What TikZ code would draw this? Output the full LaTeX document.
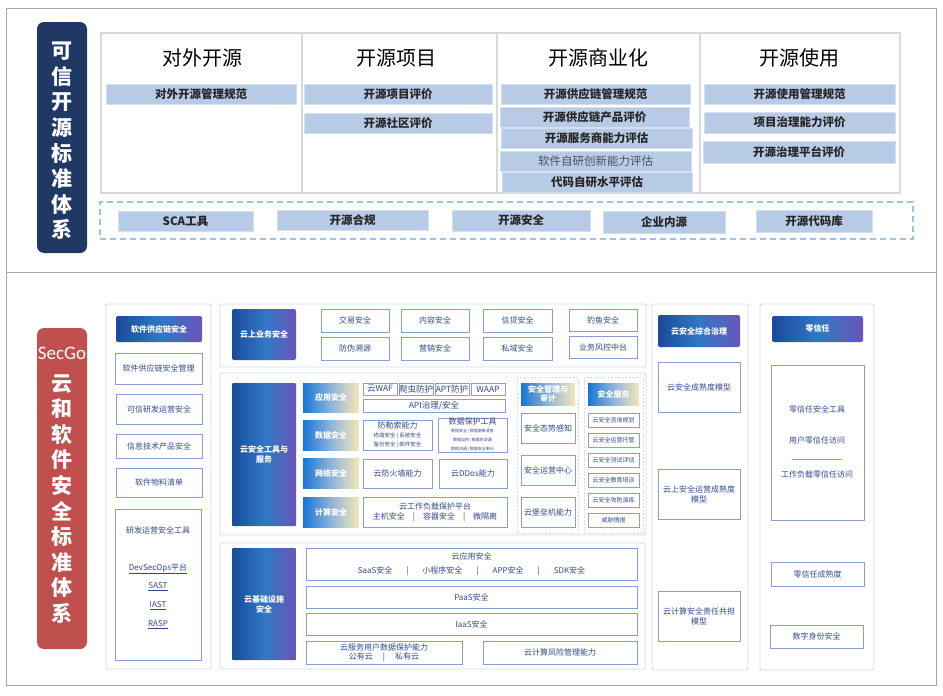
\documentclass[tikz,border=0pt]{standalone}
\usepackage{fontspec}
\setmainfont{Noto Sans CJK SC}
\newfontfamily\secgofont{Carlito}
\definecolor{navy}{HTML}{1F3864}
\definecolor{redlab}{HTML}{C0504D}
\definecolor{barblue}{HTML}{B8CBE6}
\definecolor{gridgray}{HTML}{D9D9D9}
\definecolor{framegray}{HTML}{A6A6A6}
\definecolor{dashblue}{HTML}{9DC3E6}
\definecolor{slate}{HTML}{44546A}
\definecolor{panelb}{HTML}{D3DBEE}
\definecolor{boxb}{HTML}{8A9FD0}
\definecolor{txtb}{HTML}{34488E}
\definecolor{gL}{HTML}{1A4A9A}
\definecolor{gM}{HTML}{2F78C4}
\definecolor{gR}{HTML}{6A56B8}
\definecolor{sL}{HTML}{1876D4}
\definecolor{sM}{HTML}{8FB4DA}
\definecolor{sR}{HTML}{F5E8B8}
\newcommand\fs[2]{\fontsize{#1}{#2}\selectfont}
\newcommand\B[7][]{\node[inner sep=0pt,outer sep=0pt,anchor=center,
   minimum width={(#5-#3)*1pt},minimum height={(#6-#4)*1pt},#1]
   (#2) at ({(#3+#5)/2},{(#4+#6)/2}) {#7};}
\tikzset{
  cell/.style={draw=gridgray,line width=1.5pt},
  ttl/.style={font=\fs{20}{24},text=black},
  bar/.style={fill=barblue,draw=barblue!60!white,line width=0.6pt,font=\bfseries\fs{11.5}{13},text=black!85},
  dbox/.style={draw=dashblue,dashed,dash pattern=on 6pt off 4pt,line width=1.2pt},
  vlab/.style={rounded corners=7pt,draw=none},
  vtext/.style={text=white,font=\bfseries\fs{21}{25.6},align=center},
  panel/.style={draw=panelb,line width=0.9pt,rounded corners=2pt,fill=white},
  dpanel/.style={draw=panelb,dashed,dash pattern=on 2pt off 1.5pt,line width=0.6pt},
  bx/.style={draw=boxb,line width=0.8pt,fill=white,text=txtb,font=\fs{8}{10},align=center},
  grad/.style={left color=gL,right color=gR,middle color=gM,text=white,font=\bfseries\fs{8}{10},align=center,rounded corners=2pt},
  sgrad/.style={left color=sL,right color=sR,middle color=sM,text=white,font=\bfseries\fs{8}{9.5},align=center},
  tx/.style={text=txtb,font=\fs{8}{10},align=center,inner sep=0pt},
}
\begin{document}
\begin{tikzpicture}[x=1pt,y=-1pt]
\useasboundingbox (0,0) rectangle (943,696);
\fill[white] (0,0) rectangle (943,696);
% outer frames
\draw[framegray,line width=0.9pt] (6,8) rectangle (936,685);
\draw[framegray,line width=0.9pt] (6,272) -- (936,272);

% ===== top section =====
\B[vlab,fill=navy]{lab1}{37}{22}{87}{253}{}
\node[vtext] (lab1t) at (62,141) {可\\信\\开\\源\\标\\准\\体\\系};

\B[cell]{c1}{101}{33}{302}{193}{}
\B[cell]{c2}{302}{33}{497}{193}{}
\B[cell]{c3}{497}{33}{700}{193}{}
\B[cell]{c4}{700}{33}{900}{193}{}
\node[ttl] (t1) at (202,58) {对外开源};
\node[ttl] (t2) at (396,58) {开源项目};
\node[ttl] (t3) at (598,58) {开源商业化};
\node[ttl] (t4) at (799,58) {开源使用};

\B[bar]{b11}{106}{84}{296}{104}{对外开源管理规范}
\B[bar]{b21}{304}{84}{492}{104}{开源项目评价}
\B[bar]{b22}{304}{113}{492}{133}{开源社区评价}
\B[bar]{b31}{501}{84}{690}{104}{开源供应链管理规范}
\B[bar]{b32}{500}{107}{689}{127}{开源供应链产品评价}
\B[bar]{b33}{501}{128}{692}{148}{开源服务商能力评估}
\B[bar,text=slate]{b34}{500}{151}{691}{171}{\mdseries 软件自研创新能力评估}
\B[bar]{b35}{502}{172}{692}{192}{代码自研水平评估}
\B[bar]{b41}{704}{84}{895}{104}{开源使用管理规范}
\B[bar]{b42}{704}{112}{895}{133}{项目治理能力评价}
\B[bar]{b43}{703}{141}{895}{163}{开源治理平台评价}

\B[dbox]{dz}{100}{202}{913}{239}{}
\B[bar]{d1}{118}{211}{253}{231}{SCA工具}
\B[bar]{d2}{277}{210}{428}{230}{开源合规}
\B[bar]{d3}{452}{210}{590}{231}{开源安全}
\B[bar]{d4}{603}{211}{725}{233}{企业内源}
\B[bar]{d5}{756}{210}{872}{232}{开源代码库}

% ===== bottom section =====
\B[vlab,fill=redlab]{lab2}{37}{328}{87}{649}{}
\node[text=white,font=\secgofont\fs{19}{22}] (secgo) at (62,353) {SecGo};
\node[vtext] (lab2t) at (62,499) {云\\和\\软\\件\\安\\全\\标\\准\\体\\系};

% column A
\B[panel]{pA}{106}{304}{211}{669}{}
\B[grad]{gA}{116}{316}{202}{342}{软件供应链安全}
\B[bx]{a1}{115}{353}{202}{384}{软件供应链安全管理}
\B[bx]{a2}{116}{394}{202}{424}{可信研发运营安全}
\B[bx]{a3}{116}{434}{202}{458}{信息技术产品安全}
\B[bx]{a4}{116}{468}{202}{497}{软件物料清单}
\B[bx]{a5}{115}{509}{201}{660}{}
\node[tx] (a5t) at (158,530) {研发运营安全工具};
\node[tx] (a5a) at (158,569) {\underline{DevSecOps平台}};
\node[tx] (a5b) at (158,587) {\underline{SAST}};
\node[tx] (a5c) at (158,606) {\underline{IAST}};
\node[tx] (a5d) at (158,625) {\underline{RASP}};

% column B1
\B[panel]{pB1}{220}{304}{646}{367}{}
\B[grad]{gB1}{232}{309}{296}{360}{云上业务安全}
\B[bx]{e1}{321}{309}{389}{332}{交易安全}
\B[bx]{e2}{401}{309}{469}{332}{内容安全}
\B[bx]{e3}{483}{309}{552}{332}{信贷安全}
\B[bx]{e4}{569}{309}{637}{331}{钓鱼安全}
\B[bx]{e5}{321}{337}{389}{360}{防伪溯源}
\B[bx]{e6}{401}{337}{469}{360}{营销安全}
\B[bx]{e7}{483}{337}{552}{360}{私域安全}
\B[bx]{e8}{569}{336}{637}{358}{业务风控中台}

% column B2
\B[panel]{pB2}{220}{373}{646}{535}{}
\B[grad,rounded corners=1pt]{gB2}{232}{383}{296}{526}{云安全工具与\\服务}
\B[sgrad]{s1}{303}{383}{359}{412}{应用安全}
\B[sgrad]{s2}{303}{420}{359}{450}{数据安全}
\B[sgrad]{s3}{303}{458}{359}{488}{网络安全}
\B[sgrad]{s4}{303}{497}{359}{527}{计算安全}
\B[bx,font=\fs{8.5}{10}]{f1}{363}{383}{397}{395}{云WAF}
\B[bx,font=\fs{8.5}{10}]{f2}{399}{383}{433}{395}{爬虫防护}
\B[bx,font=\fs{8.5}{10}]{f3}{435}{383}{469}{395}{APT防护}
\B[bx,font=\fs{8.5}{10}]{f4}{471}{383}{505}{395}{WAAP}
\B[bx,font=\fs{8.5}{10}]{f5}{363}{399}{505}{412}{API治理/安全}
\B[bx]{f6}{363}{420}{432}{450}{防勒索能力\\[-1.5pt]{\fs{5.5}{7}终端安全 | 系统安全}\\[-1pt]{\fs{5.5}{7}备份安全 | 邮件安全}}
\B[bx]{f7}{438}{420}{507}{450}{数据保护工具\\[-2pt]{\fs{4}{5}数据安全 | 数据脱敏清查}\\[-1pt]{\fs{4}{5}数据加密 | 数据防泄漏}\\[-1pt]{\fs{4}{5}数据流通 | 数据安全审计}}
\B[bx]{f8}{363}{459}{432}{488}{云防火墙能力}
\B[bx]{f9}{439}{459}{507}{488}{云DDos能力}
\B[bx]{f10}{363}{497}{507}{527}{云工作负载保护平台\\主机安全\hspace{8pt}|\hspace{8pt}容器安全\hspace{8pt}|\hspace{8pt}微隔离}
\B[dpanel]{dp1}{517}{377}{578}{533}{}
\B[dpanel]{dp2}{584}{377}{643}{533}{}
\B[sgrad,font=\bfseries\fs{8}{8.5}]{m0}{521}{383}{575}{405}{安全管理与\\审计}
\B[bx]{m1}{521}{413}{575}{443}{安全态势感知}
\B[bx]{m2}{521}{455}{575}{485}{安全运营中心}
\B[bx]{m3}{521}{497}{575}{527}{云堡垒机能力}
\B[sgrad]{v0}{588}{383}{639}{405}{安全服务}
\B[bx,font=\fs{6}{7}]{v1}{588}{413}{639}{427}{云安全咨询规划}
\B[bx,font=\fs{6}{7}]{v2}{588}{433}{639}{447}{云安全运营托管}
\B[bx,font=\fs{6}{7}]{v3}{588}{453}{639}{467}{云安全测试评估}
\B[bx,font=\fs{6}{7}]{v4}{588}{473}{639}{487}{云安全教育培训}
\B[bx,font=\fs{6}{7}]{v5}{588}{493}{639}{507}{云安全攻防演练}
\B[bx,font=\fs{6}{7}]{v6}{588}{513}{639}{527}{威胁情报}

% column B3
\B[panel]{pB3}{220}{543}{645}{669}{}
\B[grad,rounded corners=1pt]{gB3}{232}{548}{296}{660}{云基础设施\\安全}
\B[bx,font=\fs{8}{14}]{h1}{306}{548}{637}{580}{云应用安全\\SaaS安全\hspace{14pt}|\hspace{14pt}小程序安全\hspace{14pt}|\hspace{14pt}APP安全\hspace{14pt}|\hspace{14pt}SDK安全}
\B[bx]{h2}{306}{586}{637}{608}{PaaS安全}
\B[bx]{h3}{306}{613}{637}{635}{IaaS安全}
\B[bx,font=\fs{8}{9.5}]{h4}{306}{641}{462}{664}{云服务用户数据保护能力\\公有云\hspace{10pt}|\hspace{10pt}私有云}
\B[bx]{h5}{483}{641}{637}{664}{云计算风险管理能力}

% column C
\B[panel]{pC}{652}{304}{748}{670}{}
\B[grad]{gC}{658}{315}{740}{347}{云安全综合治理}
\B[bx]{k1}{658}{362}{740}{412}{云安全成熟度模型}
\B[bx]{k2}{658}{469}{740}{519}{云上安全运营成熟度\\模型}
\B[bx]{k3}{658}{591}{740}{641}{云计算安全责任共担\\模型}

% column D
\B[panel]{pD}{760}{304}{874}{670}{}
\B[grad]{gD}{772}{316}{863}{342}{零信任}
\B[bx]{z1}{771}{365}{864}{520}{}
\node[tx] (z1a) at (817,409) {零信任安全工具};
\node[tx] (z1b) at (817,440) {用户零信任访问};
\draw[boxb,line width=0.8pt] (792,459) -- (842,459);
\node[tx] (z1c) at (817,474) {工作负载零信任访问};
\B[bx]{z2}{771}{562}{864}{586}{零信任成熟度}
\B[bx]{z3}{770}{625}{863}{648}{数字身份安全}
\end{tikzpicture}
\end{document}
